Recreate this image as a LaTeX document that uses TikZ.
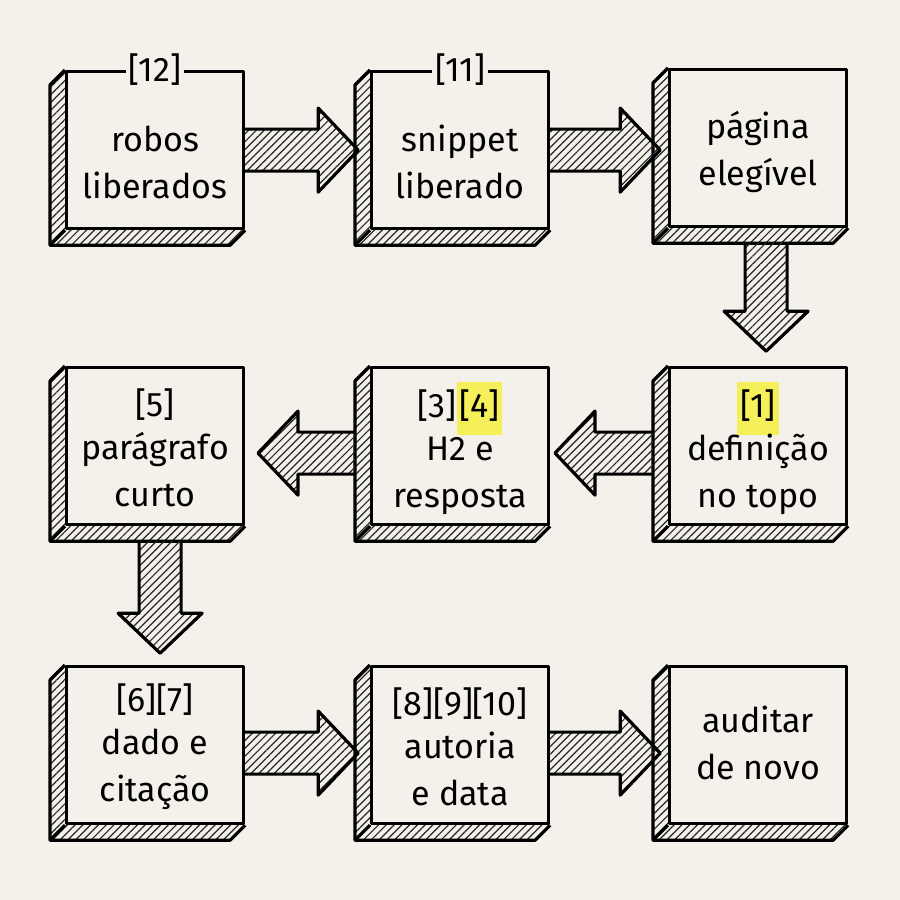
\documentclass[tikz,border=0pt]{standalone}
\usepackage{fontspec}
\setmainfont{Fira Sans}
\usetikzlibrary{patterns.meta,calc}
\definecolor{bg}{HTML}{F4F1EA}
\definecolor{hl}{HTML}{F5F05A}
\tikzset{
  hatch/.style={pattern={Lines[angle=45,distance=5.5pt,line width=1.2pt]},pattern color=black!85},
  face/.style={draw=black,line width=3.2pt,fill=bg,minimum width=177pt,minimum height=157pt,inner sep=0pt,anchor=north west,line join=round},
  shad/.style={draw=black,line width=3.2pt,line join=round},
  arr/.style={draw=black,line width=3.2pt,line join=round},
  txt/.style={font=\fontsize{34}{47}\selectfont,align=center},
  lab/.style={font=\fontsize{34}{34}\selectfont,fill=bg,inner xsep=3pt,inner ysep=1pt}
}
\newcommand\drbox[3]{% name, x, y
  \node[face] (#1) at (#2,#3) {};
  \fill[hatch] ($(#1.north west)$) -- ++(-15,15) -- ($(#1.south west)+(-15,15)$) -- ($(#1.south east)+(-15,15)$) -- (#1.south east) -- (#1.south west) -- cycle;
  \draw[shad] (#1.north west) -- ++(-15,15) -- ($(#1.south west)+(-15,15)$) -- ($(#1.south east)+(-15,15)$) -- (#1.south east);
  \draw[shad] (#1.south west) -- ++(-15,15);
  \node[face] at (#2,#3) {};
}
\newcommand\hatarrow[3]{% start, length, angle
  \fill[hatch,shift={#1},rotate=#3] (0,-21) -- (#2-40,-21) -- (#2-40,-42) -- (#2,0) -- (#2-40,42) -- (#2-40,21) -- (0,21) -- cycle;
  \draw[arr,shift={#1},rotate=#3] (0,-21) -- (#2-40,-21) -- (#2-40,-42) -- (#2,0) -- (#2-40,42) -- (#2-40,21) -- (0,21);
}
\begin{document}
\begin{tikzpicture}[x=1pt,y=-1pt]
\useasboundingbox[fill=bg] (0,0) rectangle (900,900);
\drbox{b12}{65}{70}
\drbox{b11}{370}{70}
\drbox{bp}{668}{68}
\drbox{b1}{668}{366}
\drbox{b34}{370}{366}
\drbox{b5}{65}{366}
\drbox{b67}{65}{665}
\drbox{b8}{370}{665}
\drbox{ba}{668}{665}
% arrows
\hatarrow{(b12.east)}{113}{0}
\hatarrow{(b11.east)}{110}{0}
\hatarrow{($(bp.south)+(8,15)$)}{108}{-90}
\hatarrow{($(b1.west)+(-15,7)$)}{98}{180}
\hatarrow{($(b34.west)+(-15,7)$)}{97}{180}
\hatarrow{($(b5.south)+(5,15)$)}{112}{-90}
\hatarrow{($(b67.east)+(0,8)$)}{113}{0}
\hatarrow{($(b8.east)+(0,8)$)}{110}{0}
% labels
\node[lab] (l12) at (b12.north) {[12]};
\node[lab] (l11) at (b11.north) {[11]};
\node[txt] (t12) at ($(b12.center)+(0,12)$) {robos\\liberados};
\node[txt] (t11) at ($(b11.center)+(0,12)$) {snippet\\liberado};
\node[txt] (tp) at ($(bp.center)+(0,4)$) {página\\elegível};
\node[txt] (t1) at ($(b1.center)+(0,2)$) {\colorbox{hl}{\strut[1]}\\[-4pt]definição\\no topo};
\node[txt] (t34) at ($(b34.center)+(0,2)$) {[3]\colorbox{hl}{\strut[4]}\\[-4pt]H2 e\\resposta};
\node[txt] (t5) at ($(b5.center)+(0,2)$) {[5]\\[-4pt]parágrafo\\curto};
\node[txt] (t67) at ($(b67.center)+(0,2)$) {[6][7]\\[-4pt]dado e\\citação};
\node[txt] (t8) at ($(b8.center)+(0,2)$) {[8][9][10]\\[-4pt]autoria\\e data};
\node[txt] (ta) at ($(ba.center)+(0,-2)$) {auditar\\de novo};
\end{tikzpicture}
\end{document}
